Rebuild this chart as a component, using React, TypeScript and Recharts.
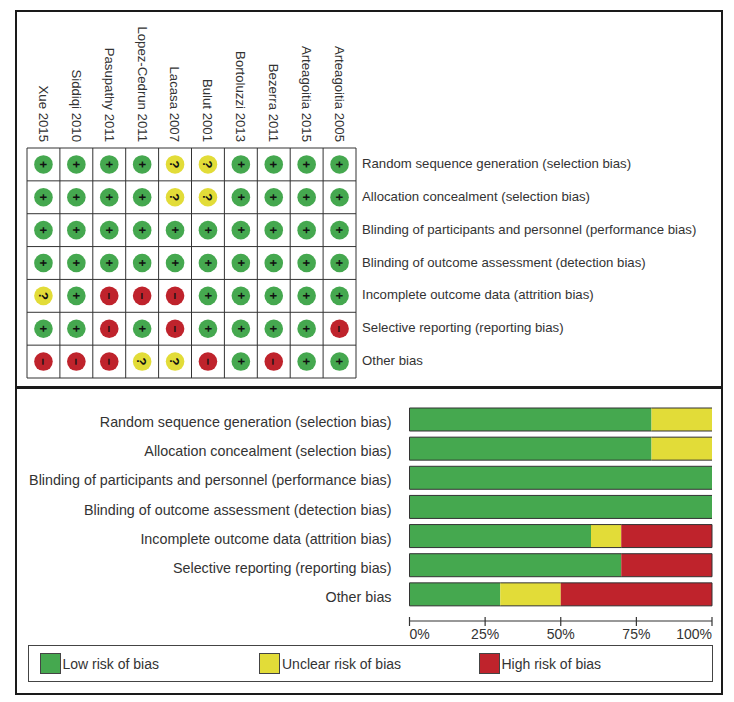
import React from "react";
import {
  ScatterChart, Scatter, XAxis, YAxis, ReferenceLine, BarChart, Bar, Legend,
} from "recharts";

const studies = ["Xue 2015", "Siddiqi 2010", "Pasupathy 2011", "Lopez-Cedrun 2011", "Lacasa 2007", "Bulut 2001", "Bortoluzzi 2013", "Bezerra 2011", "Arteagoitia 2015", "Arteagoitia 2005"];
const domains = [
  "Random sequence generation (selection bias)",
  "Allocation concealment (selection bias)",
  "Blinding of participants and personnel (performance bias)",
  "Blinding of outcome assessment (detection bias)",
  "Incomplete outcome data (attrition bias)",
  "Selective reporting (reporting bias)",
  "Other bias",
];
// One string per domain, one letter per study: L low, U unclear, H high
const judgements = [
  "LLLLUULLLL",
  "LLLLUULLLL",
  "LLLLLLLLLL",
  "LLLLLLLLLL",
  "ULHHHLLLLL",
  "LLHLHLLLLH",
  "HHHUUHLHLL",
];
const lowPct = [80, 80, 100, 100, 60, 70, 30];
const unclearPct = [20, 20, 0, 0, 10, 0, 20];
const highPct = [0, 0, 0, 0, 30, 30, 50];
const pctTicks = [0, 25, 50, 75, 100];
const colLines = [0, 1, 2, 3, 4, 5, 6, 7, 8, 9, 10];
const rowLines = [0, 1, 2, 3, 4, 5, 6, 7];
const colTicks = [0.5, 1.5, 2.5, 3.5, 4.5, 5.5, 6.5, 7.5, 8.5, 9.5];
const rowTicks = [0.5, 1.5, 2.5, 3.5, 4.5, 5.5, 6.5];

const GREEN = "#45a84f";
const YELLOW = "#e2dc38";
const RED = "#bf232c";
const DARK = "#333333";
const FONT = "'Liberation Sans', Arial, sans-serif";

const points = (code: string) =>
  judgements.flatMap((row, r) =>
    row.split("").flatMap((c, s) => (c === code ? [{ x: s + 0.5, y: r + 0.5 }] : []))
  );

const barData = domains.map((d, i) => ({ domain: d, low: lowPct[i], unclear: unclearPct[i], high: highPct[i] }));

const dot = (fill: string, sym: string) => (p: any) => (
  <g>
    <circle cx={p.cx} cy={p.cy} r={9.3} fill={fill} />
    <text
      x={p.cx}
      y={p.cy}
      transform={`rotate(90 ${p.cx} ${p.cy})`}
      textAnchor="middle"
      dy="0.36em"
      fontSize={sym === "?" ? 13 : 12}
      fontWeight="bold"
      fontFamily={FONT}
      fill="#111"
    >
      {sym}
    </text>
  </g>
);

const StudyTick = (p: any) => {
  const x = p.x;
  const y = 142;
  return (
    <text
      x={x}
      y={y}
      transform={`rotate(90 ${x} ${y})`}
      textAnchor="end"
      dy="0.35em"
      fontSize={13.2}
      fontFamily={FONT}
      fill={DARK}
    >
      {studies[Math.floor(p.payload.value)]}
    </text>
  );
};

const DomainTick = (p: any) => (
  <text x={p.x} y={p.y} dy={p.dyOffset} textAnchor={p.anchor} fontSize={p.size} fontFamily={FONT} fill={DARK}>
    {p.payload.value}
  </text>
);

const PctTick = (p: any) => {
  const v = p.payload.value;
  return (
    <g>
      <line x1={p.x} x2={p.x} y1={p.y - 4} y2={p.y + 5} stroke={DARK} strokeWidth={1.2} />
      <text
        x={p.x}
        y={p.y + 18}
        textAnchor={v === 0 ? "start" : v === 100 ? "end" : "middle"}
        fontSize={14}
        fontFamily={FONT}
        fill={DARK}
      >
        {v}%
      </text>
    </g>
  );
};

const segment = (fill: string, first: boolean, last: boolean) => (p: any) => {
  if (!p.width) return <g />;
  const { x, y, width: w, height: h } = p;
  return (
    <g>
      <rect x={x} y={y} width={w} height={h} fill={fill} />
      <line x1={x} x2={x + w} y1={y} y2={y} stroke={DARK} />
      <line x1={x} x2={x + w} y1={y + h} y2={y + h} stroke={DARK} />
      {first && <line x1={x} x2={x} y1={y} y2={y + h} stroke={DARK} />}
      {last && <line x1={x + w} x2={x + w} y1={y} y2={y + h} stroke={DARK} />}
    </g>
  );
};

const LegendBox = (p: any) => {
  const lefts = [10.5, 230, 449.5];
  return (
    <div style={{ position: "relative", width: 683, height: 35, border: "1.5px solid #444", boxSizing: "content-box", fontFamily: FONT, fontSize: 14, color: DARK }}>
      {(p.payload || []).map((e: any, i: number) => (
        <div key={e.value} style={{ position: "absolute", left: lefts[i], top: 7, display: "flex", alignItems: "center" }}>
          <span style={{ display: "inline-block", width: 19, height: 19, background: e.color, border: "1px solid #444", marginRight: 2 }} />
          <span>{e.value}</span>
        </div>
      ))}
    </div>
  );
};

export default function App() {
  return (
    <div style={{ position: "absolute", left: 0, top: 0, width: 734, height: 702, background: "#fff", overflow: "hidden" }}>
      <div style={{ position: "absolute", left: 15, top: 10, width: 708, height: 685, boxSizing: "border-box", border: "2.5px solid #1a1a1a" }} />
      <div style={{ position: "absolute", left: 15, top: 386, width: 708, height: 3, background: "#1a1a1a" }} />

      <div style={{ position: "absolute", left: 0, top: 0 }}>
        <ScatterChart width={734} height={380} margin={{ top: 0, right: 0, bottom: 2, left: 27 }}>
          <XAxis type="number" dataKey="x" orientation="top" height={148} domain={[0, 10]} ticks={colTicks} interval={0} axisLine={false} tickLine={false} tick={<StudyTick />} />
          <YAxis type="number" dataKey="y" orientation="right" width={378} domain={[0, 7]} reversed ticks={rowTicks} interval={0} axisLine={false} tickLine={false}
            tickFormatter={(v: number) => domains[Math.floor(v)]}
            tick={(p: any) => (
              <text x={p.x - 2} y={p.y} dy={3.5} textAnchor="start" fontSize={13.2} fontFamily={FONT} fill={DARK}>
                {domains[Math.floor(p.payload.value)]}
              </text>
            )} />
          {colLines.map((v) => <ReferenceLine key={"c" + v} x={v} stroke={DARK} strokeWidth={1} />)}
          {rowLines.map((v) => <ReferenceLine key={"r" + v} y={v} stroke={DARK} strokeWidth={1} />)}
          <Scatter name="Low" data={points("L")} isAnimationActive={false} shape={dot(GREEN, "+")} />
          <Scatter name="Unclear" data={points("U")} isAnimationActive={false} shape={dot(YELLOW, "?")} />
          <Scatter name="High" data={points("H")} isAnimationActive={false} shape={dot(RED, "\u2212")} />
        </ScatterChart>
      </div>

      <div style={{ position: "absolute", left: 0, top: 388 }}>
        <BarChart width={734} height={314} layout="vertical" data={barData} barSize={23} margin={{ top: 17, right: 22, bottom: 13, left: 0 }}>
          <XAxis type="number" domain={[0, 100]} ticks={pctTicks} interval={0} height={30} tickLine={false} tickSize={0} tickMargin={0} axisLine={{ stroke: DARK, strokeWidth: 1.2 }} tick={<PctTick />} />
          <YAxis type="category" dataKey="domain" width={409.5} interval={0} axisLine={false} tickLine={false} padding={{ top: 0, bottom: 12 }} tickMargin={12}
            tick={<DomainTick anchor="end" size={14.3} dyOffset={7.5} />} />
          <Legend verticalAlign="bottom" itemSorter={null} content={<LegendBox />} wrapperStyle={{ left: 28, bottom: 19, width: 686, height: 38 }} />
          <Bar name="Low risk of bias" dataKey="low" stackId="a" fill={GREEN} isAnimationActive={false} shape={segment(GREEN, true, false)} />
          <Bar name="Unclear risk of bias" dataKey="unclear" stackId="a" fill={YELLOW} isAnimationActive={false} shape={segment(YELLOW, false, false)} />
          <Bar name="High risk of bias" dataKey="high" stackId="a" fill={RED} isAnimationActive={false} shape={segment(RED, false, true)} />
        </BarChart>
      </div>
    </div>
  );
}
